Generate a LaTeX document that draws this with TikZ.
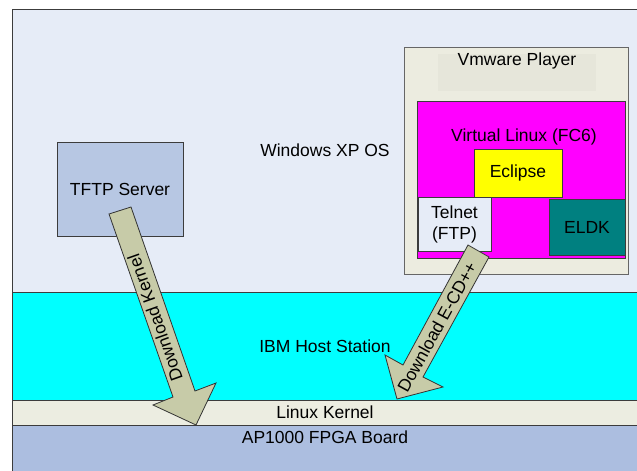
\documentclass[tikz,border=0pt]{standalone}
\usepackage{fontspec}
\setmainfont{Liberation Sans}
\definecolor{winbg}{RGB}{230,236,247}
\definecolor{ibmcyan}{RGB}{0,255,255}
\definecolor{kernelbg}{RGB}{236,237,225}
\definecolor{boardbg}{RGB}{172,190,224}
\definecolor{tftpbg}{RGB}{183,199,227}
\definecolor{vmbg}{RGB}{236,236,224}
\definecolor{vmtitle}{RGB}{230,230,218}
\definecolor{arrowfill}{RGB}{199,203,168}
\definecolor{eldkteal}{RGB}{0,128,128}
\definecolor{edgegray}{RGB}{60,60,60}
\definecolor{vlmagenta}{RGB}{255,0,255}
\definecolor{eclyellow}{RGB}{255,255,0}
\begin{document}
\begin{tikzpicture}[x=1pt,y=-1pt,
  font=\fontsize{17.5}{21}\selectfont,
  band/.style={draw=edgegray,line width=1pt},
  box/.style={draw=edgegray,line width=1pt,inner sep=0pt,align=center},
  blockarrow/.style={draw=black!80,line width=0.8pt,fill=arrowfill,line join=miter},
  lbl/.style={inner sep=1pt}]
\useasboundingbox (0,0) rectangle (637,471);
\fill[white] (0,0) rectangle (637,471);
\begin{scope}
\clip (0,0) rectangle (637,471);
% bands
\draw[band,fill=winbg] (12,9) rectangle (645,292);
\draw[band,fill=ibmcyan] (12,292) rectangle (645,400);
\draw[band,fill=kernelbg] (12,400) rectangle (645,425);
\draw[band,fill=boardbg] (12,425) rectangle (645,480);
\end{scope}
% TFTP server
\node[box,fill=tftpbg,minimum width=126pt,minimum height=94pt] (tftp) at (120,189) {TFTP Server};
% Vmware player
\node[box,draw=black!60,fill=vmbg,minimum width=224pt,minimum height=227pt] (vm) at (516,160.5) {};
\fill[vmtitle] (438,54) rectangle (596,91);
\node[lbl] (vmtxt) at (517,61) {Vmware Player};
\node[box,fill=vlmagenta,minimum width=208pt,minimum height=157pt] (vlinux) at (521,179.5) {};
\node[lbl] (vltxt) at (524,137) {Virtual Linux (FC6)};
\node[box,fill=eclyellow,minimum width=88pt,minimum height=48pt] (eclipse) at (518,173) {Eclipse};
\node[box,fill=winbg,minimum width=73pt,minimum height=54pt] (telnet) at (454.5,224) {Telnet\\(FTP)};
\node[box,fill=eldkteal,minimum width=76pt,minimum height=56pt] (eldk) at (587,227) {ELDK};
% layer labels
\node[lbl] (winxp) at (325,150) {Windows XP OS};
\node[lbl] (ibm) at (325,346) {IBM Host Station};
\node[lbl] (kernel) at (325,412) {Linux Kernel};
\node[lbl] (board) at (325,437) {AP1000 FPGA Board};
% arrow 1: Download Kernel
\coordinate (a1tl) at (109,214);
\coordinate (a1tr) at (131,207);
\coordinate (a1sr) at (195,391);
\coordinate (a1wr) at (216,383);
\coordinate (a1tip) at (196,425);
\coordinate (a1wl) at (153,405);
\coordinate (a1sl) at (173,397);
\draw[blockarrow] (a1tl) -- (a1tr) -- (a1sr) -- (a1wr) -- (a1tip) -- (a1wl) -- (a1sl) -- cycle;
\node[lbl,rotate=109.55] (a1lbl) at (155,318) {Download Kernel};
% arrow 2: Download E-CD++
\coordinate (a2tl) at (468,245);
\coordinate (a2tr) at (489,257);
\coordinate (a2sr) at (423,377);
\coordinate (a2wr) at (443,387);
\coordinate (a2tip) at (397,399);
\coordinate (a2wl) at (385,355);
\coordinate (a2sl) at (403,365);
\draw[blockarrow] (a2tl) -- (a2tr) -- (a2sr) -- (a2wr) -- (a2tip) -- (a2wl) -- (a2sl) -- cycle;
\node[lbl,rotate=61.2] (a2lbl) at (437,327) {Download E-CD++};
\end{tikzpicture}
\end{document}
